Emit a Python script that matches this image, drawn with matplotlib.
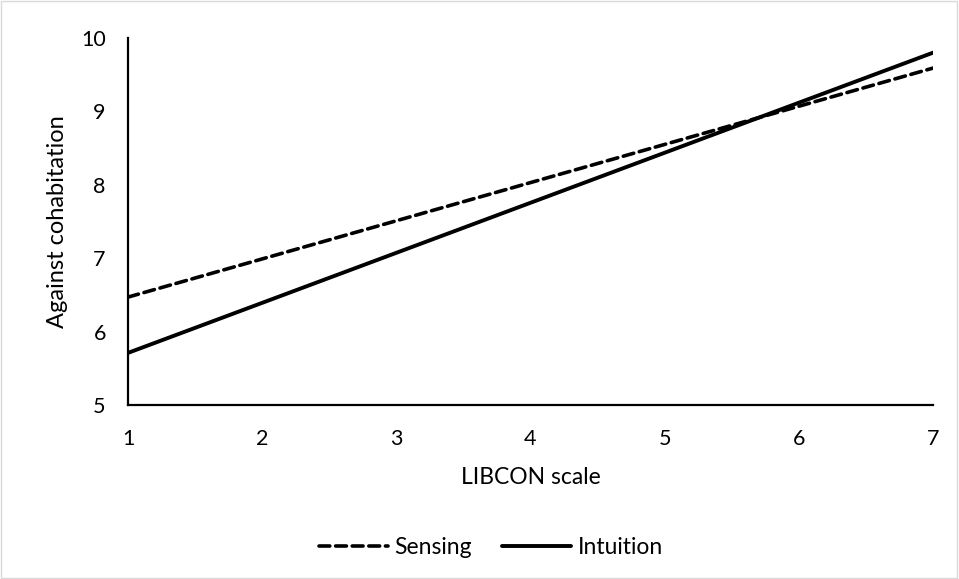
import matplotlib.pyplot as plt
from matplotlib.patches import Rectangle

# valores
libcon = [1, 7]
sensing = [6.47, 9.59]
intuition = [5.71, 9.80]
x_ticks = [1, 2, 3, 4, 5, 6, 7]
y_ticks = [5, 6, 7, 8, 9, 10]

plt.rcParams['font.family'] = ['Lato', 'DejaVu Sans']

fig = plt.figure(figsize=(9.59, 5.79), dpi=100)
ax = fig.add_axes([128 / 959, 1 - 405 / 579, (933 - 128) / 959, (405 - 38) / 579])

ax.plot(libcon, sensing, color='black', lw=2.6, linestyle=(0, (3, 1.6)),
        label='Sensing', solid_capstyle='round', dash_capstyle='round')
ax.plot(libcon, intuition, color='black', lw=2.8, label='Intuition',
        solid_capstyle='round')

ax.set_xlim(1, 7)
ax.set_ylim(5, 10)
ax.set_xticks(x_ticks)
ax.set_yticks(y_ticks)
ax.tick_params(length=0, labelsize=15.5)
ax.tick_params(axis='x', pad=17)
ax.tick_params(axis='y', pad=16)
for side in ['top', 'right']:
    ax.spines[side].set_visible(False)
for side in ['left', 'bottom']:
    ax.spines[side].set_linewidth(1.6)

ax.set_xlabel('LIBCON scale', fontsize=16.5, va='center')
ax.set_ylabel('Against cohabitation', fontsize=17, va='center')
ax.xaxis.set_label_coords(0.5, (405 - 477) / 367)
ax.yaxis.set_label_coords((58 - 128) / 805, 0.5)

fig.legend(loc='center', bbox_to_anchor=(491 / 959, 1 - 548 / 579), ncol=2,
           frameon=False, fontsize=16.5, handlelength=3.0, columnspacing=1.3,
           handletextpad=0.3)

# moldura cinza do gráfico
fig.patches.append(Rectangle((0.001, 0.001), 0.997, 0.997, transform=fig.transFigure,
                             fill=False, edgecolor='#d9d9d9', lw=1))

fig.savefig('out.png', dpi=100)
